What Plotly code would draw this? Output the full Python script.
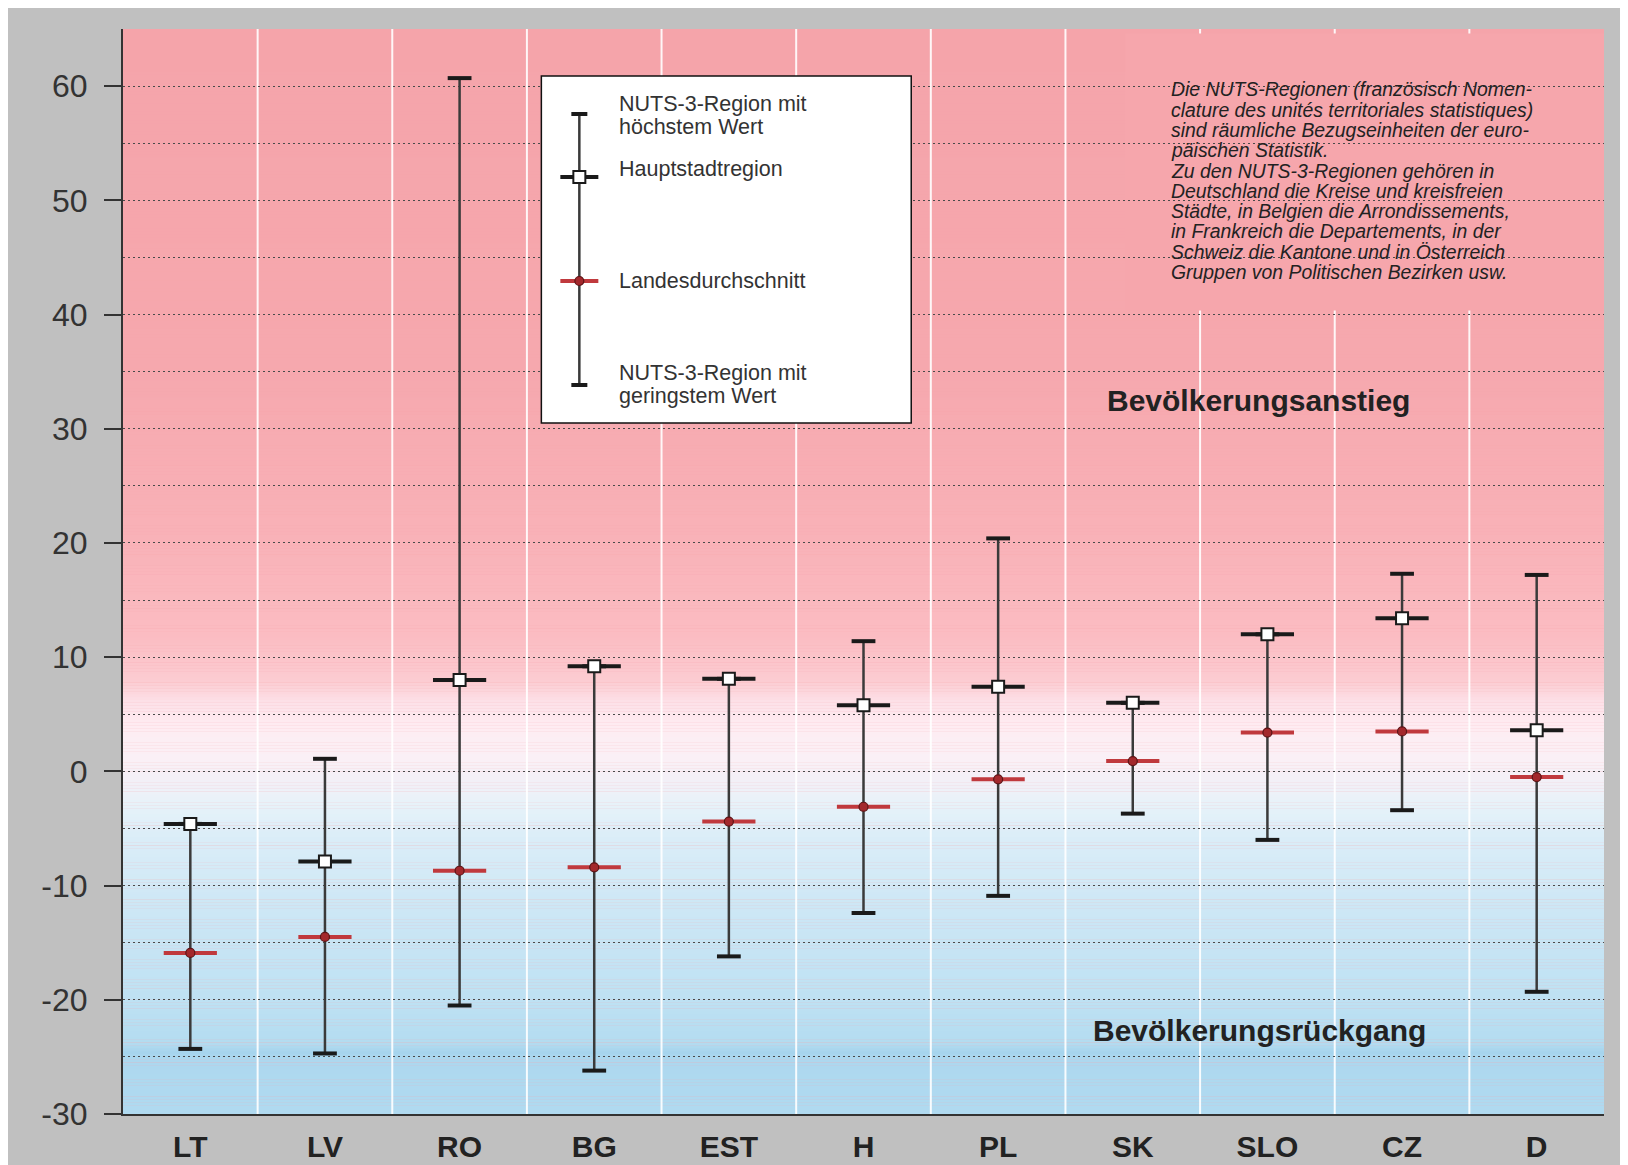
import plotly.graph_objects as go

# ---------------- data ----------------
countries = ["LT", "LV", "RO", "BG", "EST", "H", "PL", "SK", "SLO", "CZ", "D"]
max_vals = [-4.6, 1.1, 60.7, 9.2, 8.1, 11.4, 20.4, 6.0, 12.0, 17.3, 17.2]
capital_vals = [-4.6, -7.9, 8.0, 9.2, 8.1, 5.8, 7.4, 6.0, 12.0, 13.4, 3.6]
avg_vals = [-15.9, -14.5, -8.7, -8.4, -4.4, -3.1, -0.7, 0.9, 3.4, 3.5, -0.5]
min_vals = [-24.3, -24.7, -20.5, -26.2, -16.2, -12.4, -10.9, -3.7, -6.0, -3.4, -19.3]
y_ticks = [-30, -20, -10, 0, 10, 20, 30, 40, 50, 60]

note_lines = [
    "Die NUTS-Regionen (französisch Nomen-",
    "clature des unités territoriales statistiques)",
    "sind räumliche Bezugseinheiten der euro-",
    "päischen Statistik.",
    "Zu den NUTS-3-Regionen gehören in",
    "Deutschland die Kreise und kreisfreien",
    "Städte, in Belgien die Arrondissements,",
    "in Frankreich die Departements, in der",
    "Schweiz die Kantone und in Österreich",
    "Gruppen von Politischen Bezirken usw.",
]

# ---------------- layout geometry ----------------
OFF = 8  # page body margin
W, H = 1620, 1157
PLOT_L, PLOT_R, PLOT_T, PLOT_B = 122.5, 1604, 29, 1114  # absolute page pixels
L = PLOT_L - OFF
T = PLOT_T - OFF
R = W - (PLOT_R - OFF)
B = H - (PLOT_B - OFF)
PW, PH = PLOT_R - PLOT_L, PLOT_B - PLOT_T
Y_MIN, Y_MAX = -30, 65


def px(X):
    return (X - PLOT_L) / PW


def py(Y):
    return (PLOT_B - Y) / PH


FONT = "Liberation Sans, Arial, sans-serif"
DARK = "#1a1a1a"
WHISK = "#3a3a3a"
RED_BAR = "#c0393d"
RED_DOT = "#a3282c"
RED_EDGE = "#5e1416"

# background gradient stops (value, rgb)
stops = [
    (-30, (176, 218, 240)),
    (-25.2, (173, 216, 239)),
    (-24.6, (166, 212, 237)),
    (-23.8, (180, 220, 240)),
    (-20, (190, 225, 243)),
    (-12, (205, 231, 245)),
    (-6, (218, 237, 248)),
    (-3, (230, 242, 249)),
    (-1, (242, 240, 247)),
    (1, (250, 240, 246)),
    (4, (254, 236, 242)),
    (6, (253, 225, 232)),
    (8, (252, 203, 209)),
    (12, (251, 188, 194)),
    (20, (249, 178, 184)),
    (35, (246, 168, 174)),
    (65, (245, 164, 170)),
]


def col_at(v):
    for (v0, c0), (v1, c1) in zip(stops[:-1], stops[1:]):
        if v0 <= v <= v1:
            t = (v - v0) / (v1 - v0)
            return "rgb(%d,%d,%d)" % tuple(round(a + (b - a) * t) for a, b in zip(c0, c1))
    return "rgb(%d,%d,%d)" % stops[-1][1]


shapes = []
step = 0.25
v = Y_MIN
while v < Y_MAX - 1e-9:
    shapes.append(dict(type="rect", xref="paper", yref="y", x0=0, x1=1, y0=v, y1=v + step + 0.02,
                       fillcolor=col_at(v + step / 2), line=dict(width=0), layer="below"))
    v += step

n = len(countries)
for i in range(1, n):
    shapes.append(dict(type="line", xref="paper", yref="paper", x0=i / n, x1=i / n, y0=0, y1=1,
                       line=dict(color="rgba(255,255,255,0.9)", width=2), layer="below"))

# area behind the explanatory note (no grid, no separators)
shapes.append(dict(type="rect", xref="paper", yref="y", x0=px(1125), x1=1, y0=40.35, y1=64.6,
                   fillcolor=col_at(50), line=dict(width=0), layer="between"))

# legend box
shapes.append(dict(type="rect", xref="paper", yref="paper", x0=px(541), x1=px(911), y0=py(76), y1=py(423),
                   fillcolor="white", line=dict(color="#111", width=1.5), layer="above"))
LX = 579
shapes += [
    dict(type="line", xref="paper", yref="paper", x0=px(LX), x1=px(LX), y0=py(114), y1=py(385),
         line=dict(color=WHISK, width=2.5), layer="above"),
    dict(type="line", xref="paper", yref="paper", x0=px(LX - 8), x1=px(LX + 8), y0=py(114), y1=py(114),
         line=dict(color=DARK, width=4), layer="above"),
    dict(type="line", xref="paper", yref="paper", x0=px(LX - 8), x1=px(LX + 8), y0=py(385), y1=py(385),
         line=dict(color=DARK, width=4), layer="above"),
    dict(type="line", xref="paper", yref="paper", x0=px(LX - 19), x1=px(LX + 19), y0=py(177), y1=py(177),
         line=dict(color=DARK, width=4), layer="above"),
    dict(type="rect", xref="paper", yref="paper", x0=px(LX - 6), x1=px(LX + 6), y0=py(171), y1=py(183),
         fillcolor="white", line=dict(color=DARK, width=2), layer="above"),
    dict(type="line", xref="paper", yref="paper", x0=px(LX - 19), x1=px(LX + 19), y0=py(281), y1=py(281),
         line=dict(color=RED_BAR, width=4), layer="above"),
    dict(type="circle", xref="paper", yref="paper", x0=px(LX - 4.5), x1=px(LX + 4.5), y0=py(276.5), y1=py(285.5),
         fillcolor=RED_DOT, line=dict(color=RED_EDGE, width=1.2), layer="above"),
]

# ---------------- annotations ----------------
annotations = []
leg_items = [
    ("NUTS-3-Region mit", 104), ("höchstem Wert", 127),
    ("Hauptstadtregion", 169),
    ("Landesdurchschnitt", 281),
    ("NUTS-3-Region mit", 373), ("geringstem Wert", 396),
]
for txt, yy in leg_items:
    annotations.append(dict(text=txt, xref="paper", yref="paper", x=px(617), y=py(yy), xanchor="left",
                            yanchor="middle", showarrow=False, font=dict(family=FONT, size=21.5, color="#333")))

for k, line in enumerate(note_lines):
    annotations.append(dict(text="<i>" + line + "</i>", xref="paper", yref="paper",
                            x=px(1169), y=py(89.3 + 20.3 * k), xanchor="left", yanchor="middle",
                            align="left", showarrow=False,
                            font=dict(family=FONT, size=19.4, color="#222")))

annotations.append(dict(text="<b>Bevölkerungsanstieg</b>", xref="paper", yref="paper", x=px(1258), y=py(400),
                        xanchor="center", yanchor="middle", showarrow=False,
                        font=dict(family=FONT, size=30, color="#222")))
annotations.append(dict(text="<b>Bevölkerungsrückgang</b>", xref="paper", yref="paper", x=px(1259), y=py(1030),
                        xanchor="center", yanchor="middle", showarrow=False,
                        font=dict(family=FONT, size=30, color="#222")))

# ---------------- traces ----------------
wx, wy = [], []
for c, lo, hi in zip(countries, min_vals, max_vals):
    wx += [c, c, None]
    wy += [lo, hi, None]

fig = go.Figure()
fig.add_trace(go.Scatter(x=wx, y=wy, mode="lines", line=dict(color=WHISK, width=2.5),
                         hoverinfo="skip", showlegend=False))
fig.add_trace(go.Scatter(x=countries + countries, y=max_vals + min_vals, mode="markers",
                         marker=dict(symbol="line-ew", size=17, line=dict(color=DARK, width=4)),
                         showlegend=False, name="Max/Min"))
fig.add_trace(go.Scatter(x=countries, y=capital_vals, mode="markers",
                         marker=dict(symbol="line-ew", size=38, line=dict(color=DARK, width=4)),
                         showlegend=False, hoverinfo="skip"))
fig.add_trace(go.Scatter(x=countries, y=capital_vals, mode="markers",
                         marker=dict(symbol="square", size=12, color="white", line=dict(color=DARK, width=2)),
                         showlegend=False, name="Hauptstadtregion"))
fig.add_trace(go.Scatter(x=countries, y=avg_vals, mode="markers",
                         marker=dict(symbol="line-ew", size=38, line=dict(color=RED_BAR, width=4)),
                         showlegend=False, hoverinfo="skip"))
fig.add_trace(go.Scatter(x=countries, y=avg_vals, mode="markers",
                         marker=dict(symbol="circle", size=9, color=RED_DOT, line=dict(color=RED_EDGE, width=1.2)),
                         showlegend=False, name="Landesdurchschnitt"))

fig.update_layout(
    width=W, height=H,
    margin=dict(l=L, r=R, t=T, b=B, pad=0, autoexpand=False),
    paper_bgcolor="#c0c0c0",
    plot_bgcolor="#f5a4aa",
    shapes=shapes,
    annotations=annotations,
    showlegend=False,
    xaxis=dict(type="category", categoryorder="array", categoryarray=countries,
               range=[-0.5, n - 0.5], showgrid=False, zeroline=False,
               showline=True, linecolor="#333", linewidth=2, ticks="",
               tickfont=dict(family=FONT, size=30, color="#222", weight="bold"),
               ticklabelstandoff=5, fixedrange=True, automargin=False),
    yaxis=dict(range=[Y_MIN, Y_MAX], tickvals=y_ticks, ticktext=[str(t) for t in y_ticks],
               ticks="outside", ticklen=17, tickwidth=2, tickcolor="#333",
               showline=True, linecolor="#333", linewidth=2, zeroline=False,
               showgrid=True, gridcolor="#4a4a4a", gridwidth=1, griddash="2px,3px",
               minor=dict(dtick=5, tick0=0, showgrid=True, gridcolor="#4a4a4a", gridwidth=1,
                          griddash="2px,3px", ticks=""),
               tickfont=dict(family=FONT, size=32, color="#333"),
               ticklabelstandoff=10, fixedrange=True, automargin=False),
)

fig.write_html("out.html", post_script="document.body.style.overflow='hidden';")
